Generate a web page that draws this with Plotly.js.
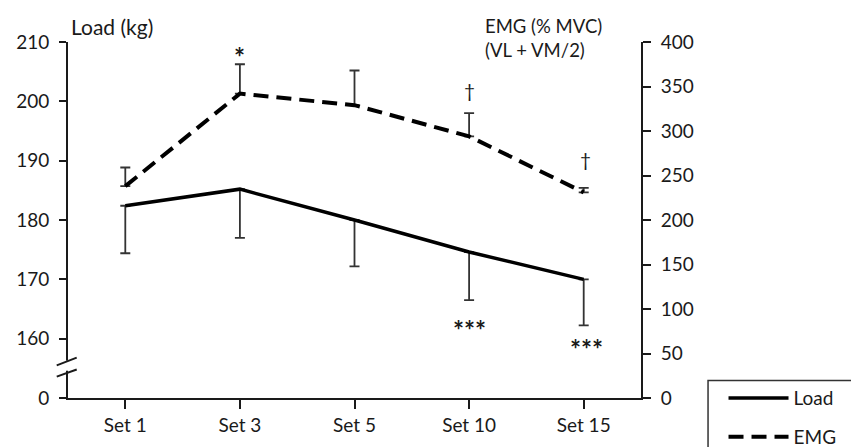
<!DOCTYPE html>
<html>
<head>
<meta charset="utf-8">
<script src="https://cdn.plot.ly/plotly-3.0.1.min.js"></script>
<style>html,body{margin:0;padding:0;background:#fff;}#chart{width:851px;height:447px;}</style>
</head>
<body>
<div id="chart"></div>
<script>
// ---- data ----
const categories = ['Set 1', 'Set 3', 'Set 5', 'Set 10', 'Set 15'];
const load = [182.4, 185.2, 180.0, 174.6, 170.0];
const loadSD = [8.0, 8.2, 7.8, 8.1, 7.75];
const emg = [238, 342, 329, 294, 231];
const emgSD = [21, 33, 39, 26, 5];
const loadTickVals = [150, 160, 170, 180, 190, 200, 210];
const loadTickText = ['0', '160', '170', '180', '190', '200', '210'];
const emgTickVals = [0, 50, 100, 150, 200, 250, 300, 350, 400];
// significance markers: [category index, text]
const emgMarks = [[1, '*'], [3, '†'], [4, '†']];
const loadMarks = [[3, '***'], [4, '***']];

const FONT = 'Lato, "Liberation Sans", Arial, sans-serif';
const INK = '#1a1a1a';

const traces = [
  {
    x: categories, y: load, name: 'Load', type: 'scatter', mode: 'lines', legendgroup: 'a',
    line: {color: '#000', width: 3.5},
    error_y: {type: 'data', symmetric: false, array: load.map(() => 0), arrayminus: loadSD,
              color: '#333', thickness: 1.8, width: 5},
    yaxis: 'y'
  },
  {
    x: categories, y: emg, name: 'EMG', type: 'scatter', mode: 'lines', legendgroup: 'b',
    line: {color: '#000', width: 4, dash: '15px,8px'},
    error_y: {type: 'data', symmetric: false, array: emgSD, arrayminus: emg.map(() => 0),
              color: '#333', thickness: 1.8, width: 5},
    yaxis: 'y2'
  }
];

const annotations = [];
emgMarks.forEach(([i, t], k) => {
  const isStar = t === '*';
  annotations.push({x: categories[i], y: emg[i] + emgSD[i], xref: 'x', yref: 'y2',
    text: isStar ? '<b>*</b>' : t,
    showarrow: false, yshift: isStar ? 7 : (k === 2 ? 28 : 23), xshift: (k === 2 ? 2 : 0),
    font: {family: FONT, size: isStar ? 26 : 19, color: INK}});
});
loadMarks.forEach(([i, t], k) => {
  annotations.push({x: categories[i], y: load[i] - loadSD[i], xref: 'x', yref: 'y', text: '<b>' + t + '</b>',
    showarrow: false, yshift: (k === 0 ? -30 : -24), xshift: (k === 1 ? 3 : 0),
    font: {family: FONT, size: 26, color: INK}});
});
annotations.push({xref: 'paper', yref: 'paper', x: 0.002, y: 1.044, xanchor: 'left', yanchor: 'middle',
  text: 'Load (kg)', showarrow: false, font: {family: FONT, size: 21, color: INK}});
annotations.push({xref: 'paper', yref: 'paper', x: 0.724, y: 1.012, xanchor: 'left', yanchor: 'middle', align: 'left',
  text: 'EMG (% MVC)<br>(VL + VM/2)', showarrow: false, font: {family: FONT, size: 18.5, color: INK}});

const shapes = [
  // axis break: white gap and slashes
  {type: 'line', xref: 'paper', yref: 'y', x0: 0, x1: 0, y0: 154.6, y1: 156.3, line: {color: '#fff', width: 5}},
  {type: 'line', xref: 'paper', yref: 'y', x0: -0.0197, x1: 0.0152, y0: 155.5, y1: 156.8, line: {color: INK, width: 2}},
  {type: 'line', xref: 'paper', yref: 'y', x0: -0.0197, x1: 0.0152, y0: 153.6, y1: 154.8, line: {color: INK, width: 2}},
  // legend frame
  {type: 'rect', xref: 'paper', yref: 'paper', x0: 1.117, x1: 1.6, y0: -0.5, y1: 0.049, line: {color: '#333', width: 1.5}, fillcolor: 'rgba(0,0,0,0)'}
];

const layout = {
  width: 851, height: 447,
  margin: {l: 68, r: 210, t: 42, b: 49, autoexpand: false},
  paper_bgcolor: '#fff', plot_bgcolor: '#fff',
  font: {family: FONT, size: 19, color: INK},
  showlegend: true,
  legend: {x: 1.144, y: 0.053, xanchor: 'left', yanchor: 'top', bgcolor: 'rgba(0,0,0,0)', borderwidth: 0,
           font: {family: FONT, size: 19, color: INK}, itemwidth: 60, traceorder: 'grouped', tracegroupgap: 11},
  xaxis: {type: 'category', range: [-0.5, 4.5], showline: true, linecolor: INK, linewidth: 2,
          ticks: 'outside', ticklen: 9, tickwidth: 2, tickcolor: INK, showgrid: false, zeroline: false,
          tickfont: {family: FONT, size: 19, color: INK}},
  yaxis: {range: [150, 210], tickvals: loadTickVals, ticktext: loadTickText, showline: true, linecolor: INK,
          linewidth: 2, ticks: 'outside', ticklen: 7, tickwidth: 2, tickcolor: INK, showgrid: false, zeroline: false,
          tickfont: {family: FONT, size: 19, color: INK}, ticklabelstandoff: 6},
  yaxis2: {range: [0, 400], tickvals: emgTickVals, overlaying: 'y', side: 'right', showline: true, linecolor: INK,
           linewidth: 2, ticks: 'outside', ticklen: 8, tickwidth: 2, tickcolor: INK, showgrid: false, zeroline: false,
           tickfont: {family: FONT, size: 19, color: INK}, ticklabelstandoff: 6},
  annotations: annotations,
  shapes: shapes
};

Plotly.newPlot('chart', traces, layout, {displayModeBar: false, staticPlot: true});
</script>
</body>
</html>
